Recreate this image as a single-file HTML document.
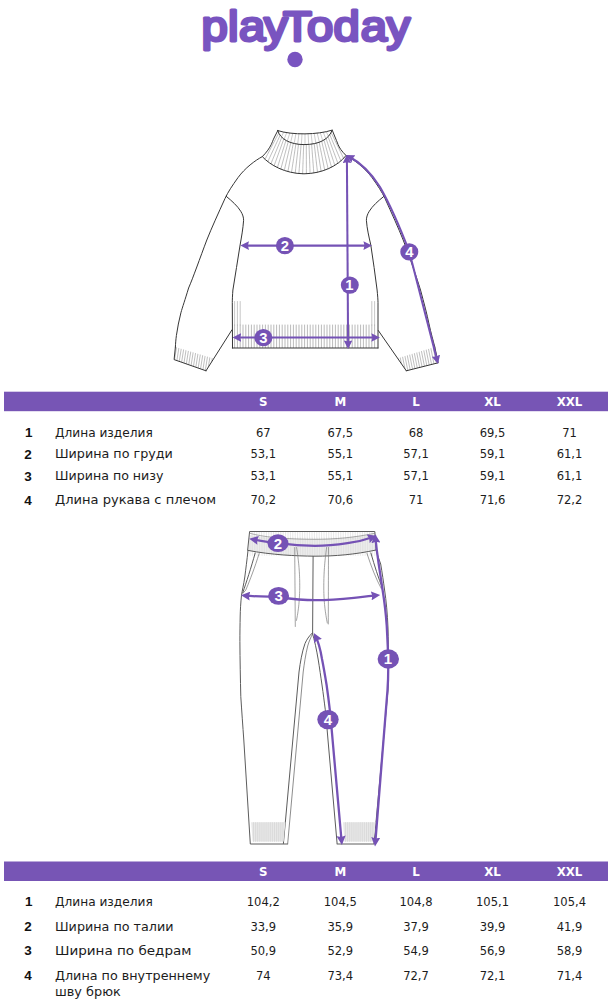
<!DOCTYPE html>
<html lang="ru">
<head>
<meta charset="utf-8">
<title>PlayToday — таблица размеров</title>
<style>
html,body{margin:0;padding:0;background:#fff;}
body{width:615px;height:1000px;overflow:hidden;position:relative;font-family:"Liberation Sans",sans-serif;color:#222;}
svg{position:absolute;left:0;top:0;display:block;}
.t{font-family:"DejaVu Sans","Liberation Sans",sans-serif;font-size:12.3px;fill:#1c1c1c;}
.nb{font-family:"Liberation Sans",sans-serif;font-size:13.5px;font-weight:bold;fill:#111;}
.h{font-family:"DejaVu Sans","Liberation Sans",sans-serif;font-size:11.8px;font-weight:bold;fill:#fff;}
.n{font-family:"Liberation Sans",sans-serif;font-weight:bold;fill:#fff;}
.logo{font-family:"Liberation Sans",sans-serif;font-weight:normal;fill:#7954c0;stroke:#7954c0;stroke-width:2.9;stroke-linejoin:round;stroke-linecap:round;}
</style>
</head>
<body>
<svg width="615" height="1000" viewBox="0 0 615 1000">
<defs>
<marker id="ah" viewBox="0 0 10 10" refX="6" refY="5" markerUnits="userSpaceOnUse" markerWidth="8.6" markerHeight="8.6" orient="auto-start-reverse"><path d="M0,0 L10,5 L0,10 L1.2,5 Z" fill="#7552b5"/></marker>
<marker id="ah2" viewBox="0 0 10 10" refX="6" refY="5" markerUnits="userSpaceOnUse" markerWidth="9.4" markerHeight="9" orient="auto-start-reverse"><path d="M0,0 L10,5 L0,10 L1.2,5 Z" fill="#7552b5"/></marker>
</defs>

<!-- LOGO -->
<g id="logo">
<text class="logo" transform="scale(1.12,1)" x="179.9 203.6 213.4 235.7 252.6 274.1 297.8 322.1 345.1" y="40.6" font-size="42.2">playToday</text>
<circle cx="295" cy="59.5" r="7.7" fill="#7954c0"/>
</g>

<!-- SWEATER -->
<g id="sweater" fill="none" stroke="#363636" stroke-width="1" stroke-linecap="round" stroke-linejoin="round">
<path d="M277.8,130.6 L274.5,137 C273,140 272,143 271.3,144.4 C269.5,148 267,152 262.3,156.6 C270,165 285,173.6 304,173.8 C322,173.6 338,166 346,155.5 C341.5,151 339.5,148 338,144.4 C337,142 336,139 335,137 L332.2,130.1 C318,134.8 292,135.3 277.8,130.6 Z" fill="#fff" stroke="none"/>
<path d="M278.7,133.1L265.0,159.2M280.1,135.3L267.8,161.6M281.8,137.3L270.9,163.8M283.8,139.0L274.1,165.8M286.0,140.4L277.4,167.5M288.3,141.6L280.8,169.1M290.8,142.6L284.3,170.4M293.3,143.3L287.9,171.5M295.9,143.9L291.5,172.4M298.5,144.3L295.2,173.1M301.1,144.5L298.9,173.5M303.7,144.6L302.6,173.8M306.3,144.5L306.4,173.7M309.0,144.4L310.1,173.4M311.6,144.1L313.8,172.9M314.2,143.7L317.5,172.2M316.7,143.1L321.1,171.3M319.2,142.3L324.7,170.1M321.7,141.3L328.2,168.8M324.0,140.0L331.5,167.2M326.1,138.5L334.8,165.3M328.1,136.8L337.9,163.3M329.8,134.7L340.9,160.9M331.1,132.5L343.6,158.3" stroke="#8c8c8c" stroke-width="0.55" stroke-dasharray="5 0.8 3 0.6"/>
<path d="M283.7,132.1L281.4,136.9M286.7,132.7L284.1,139.3M289.8,133.1L287.3,141.1M292.8,133.4L290.6,142.5M295.9,133.7L294.2,143.5M298.9,133.8L297.7,144.2M302.0,133.9L301.4,144.5M305.0,133.9L305.0,144.6M308.1,133.8L308.7,144.4M311.1,133.7L312.3,144.0M314.2,133.4L315.9,143.3M317.2,133.1L319.4,142.2M320.3,132.7L322.7,140.7M323.3,132.3L325.8,138.8M326.3,131.7L328.5,136.3" stroke="#999" stroke-width="0.5"/>
<path d="M277.8,130.6 L274.5,137 C273,140 272,143 271.3,144.4 C269.5,148 267,152 262.3,156.6 C270,165 285,173.6 304,173.8 C322,173.6 338,166 346,155.5 C341.5,151 339.5,148 338,144.4 C337,142 336,139 335,137 L332.2,130.1 C318,134.8 292,135.3 277.8,130.6 Z"/>
<path d="M277.8,130.6 C280,139 290,144.5 304,144.6 C320,144.5 329,139 332.2,130.1"/>
<path d="M262.3,156.6 C255,160.5 245,168 238,177.6 C232,186 228,192 225,198.5 C218,214 212,227 206.8,240 C200,258 193,278 188.6,288 C185,300 182.5,307 180.9,312.8 C179,320 177.5,328 176.4,335.5 C175.8,340 175.5,344 175.4,347"/>
<path d="M346,155.5 C354,159.5 365,168 372,177.6 C378,186 382,192 385,198.5 C392,214 398,227 403.2,240 C410,258 416.5,277 420.5,290 C424,303 427,314 429,324 C431,333 433,340 434.8,347"/>
<clipPath id="cl"><path d="M175.4,347 L174.1,359.6 L206,370.8 L213.6,358.5 Z"/></clipPath>
<path clip-path="url(#cl)" d="M172.0,344.0L167.4,373.0M174.5,344.0L169.9,373.0M177.0,344.0L172.4,373.0M179.5,344.0L174.9,373.0M182.0,344.0L177.4,373.0M184.5,344.0L179.9,373.0M187.0,344.0L182.4,373.0M189.5,344.0L184.9,373.0M192.0,344.0L187.4,373.0M194.5,344.0L189.9,373.0M197.0,344.0L192.4,373.0M199.5,344.0L194.9,373.0M202.0,344.0L197.4,373.0M204.5,344.0L199.9,373.0M207.0,344.0L202.4,373.0M209.5,344.0L204.9,373.0M212.0,344.0L207.4,373.0M214.5,344.0L209.9,373.0M217.0,344.0L212.4,373.0M219.5,344.0L214.9,373.0M222.0,344.0L217.4,373.0M224.5,344.0L219.9,373.0M227.0,344.0L222.4,373.0M229.5,344.0L224.9,373.0" stroke="#8a8a8a" stroke-width="0.55"/>
<path d="M175.4,347 L174.1,359.6 L206,370.8"/>
<clipPath id="cr"><path d="M434.8,347 L438.2,362.8 L406.3,370.8 L397.8,358.3 Z"/></clipPath>
<path clip-path="url(#cr)" d="M385.0,344.0L390.8,373.0M387.5,344.0L393.3,373.0M390.0,344.0L395.8,373.0M392.5,344.0L398.3,373.0M395.0,344.0L400.8,373.0M397.5,344.0L403.3,373.0M400.0,344.0L405.8,373.0M402.5,344.0L408.3,373.0M405.0,344.0L410.8,373.0M407.5,344.0L413.3,373.0M410.0,344.0L415.8,373.0M412.5,344.0L418.3,373.0M415.0,344.0L420.8,373.0M417.5,344.0L423.3,373.0M420.0,344.0L425.8,373.0M422.5,344.0L428.3,373.0M425.0,344.0L430.8,373.0M427.5,344.0L433.3,373.0M430.0,344.0L435.8,373.0M432.5,344.0L438.3,373.0M435.0,344.0L440.8,373.0M437.5,344.0L443.3,373.0M440.0,344.0L445.8,373.0" stroke="#8a8a8a" stroke-width="0.55"/>
<path d="M434.8,347 L438.2,362.8 L406.3,370.8"/>
<path d="M226.2,196.3 C232,201 237.5,206 240.7,211.2 C242.8,214.5 243.6,217.5 243.6,220.3 C243,229 241.5,237 240.1,245 C238,260 235,275 232.9,290 C232.5,295 232.3,300 232.3,302.4 L232.5,348"/>
<path d="M383.6,196.6 C378,201 372.5,206 369.3,211.2 C367.2,214.5 366.4,217.5 366.4,220.3 C367,229 369,237 370.8,245 C373,260 375.3,275 377.1,290 C377.6,295 378,300 378,302.4 L378,348"/>
<path d="M232,329.8 L206,370.8"/>
<path d="M378.3,330.5 L406.3,370.8"/>
<path d="M234.6,325.0L234.6,347.6M237.4,325.0L237.4,347.6M240.2,325.0L240.2,347.6M243.0,325.0L243.0,347.6M245.8,325.0L245.8,347.6M248.6,325.0L248.6,347.6M251.4,325.0L251.4,347.6M254.2,325.0L254.2,347.6M257.0,325.0L257.0,347.6M259.8,325.0L259.8,347.6M262.6,325.0L262.6,347.6M265.4,325.0L265.4,347.6M268.2,325.0L268.2,347.6M271.0,325.0L271.0,347.6M273.8,325.0L273.8,347.6M276.6,325.0L276.6,347.6M279.4,325.0L279.4,347.6M282.2,325.0L282.2,347.6M285.0,325.0L285.0,347.6M287.8,325.0L287.8,347.6M290.6,325.0L290.6,347.6M293.4,325.0L293.4,347.6M296.2,325.0L296.2,347.6M299.0,325.0L299.0,347.6M301.8,325.0L301.8,347.6M304.6,325.0L304.6,347.6M307.4,325.0L307.4,347.6M310.2,325.0L310.2,347.6M313.0,325.0L313.0,347.6M315.8,325.0L315.8,347.6M318.6,325.0L318.6,347.6M321.4,325.0L321.4,347.6M324.2,325.0L324.2,347.6M327.0,325.0L327.0,347.6M329.8,325.0L329.8,347.6M332.6,325.0L332.6,347.6M335.4,325.0L335.4,347.6M338.2,325.0L338.2,347.6M341.0,325.0L341.0,347.6M343.8,325.0L343.8,347.6M346.6,325.0L346.6,347.6M349.4,325.0L349.4,347.6M352.2,325.0L352.2,347.6M355.0,325.0L355.0,347.6M357.8,325.0L357.8,347.6M360.6,325.0L360.6,347.6M363.4,325.0L363.4,347.6M366.2,325.0L366.2,347.6M369.0,325.0L369.0,347.6M371.8,325.0L371.8,347.6M374.6,325.0L374.6,347.6" stroke="#8c8c8c" stroke-width="0.6"/>
<path d="M234.6,301.5L234.6,325.0M237.4,301.5L237.4,325.0M240.2,301.5L240.2,325.0M371.8,301.5L371.8,325.0M374.6,301.5L374.6,325.0" stroke="#999" stroke-width="0.55"/>
<path d="M232.3,348 L378,348"/>
<g stroke="#7552b5" stroke-width="2.05" fill="none" stroke-linecap="butt">
<path d="M346.9,158 L348.1,345.6" marker-start="url(#ah)" marker-end="url(#ah)"/>
<path d="M243.8,245.6 L368.6,245.6" marker-start="url(#ah)" marker-end="url(#ah)"/>
<path d="M236.1,337.5 L376.5,337.5" marker-start="url(#ah)" marker-end="url(#ah)"/>
<path d="M349,156.5 C363,164 373,176 380,187 C392,208 401,230 409.3,251.8 L437.2,360.6" marker-start="url(#ah)" marker-end="url(#ah)"/>
</g>
<g stroke="none" fill="#7552b5">
<ellipse cx="349.8" cy="285.1" rx="9" ry="8.6"/><ellipse cx="284.9" cy="245.7" rx="9" ry="8.6"/><ellipse cx="263.4" cy="337.7" rx="9" ry="8.6"/><ellipse cx="409.3" cy="251.8" rx="9" ry="8.6"/>
</g>
<g stroke="none">
<text class="n" font-size="14.8" text-anchor="middle" x="349.3" y="290.4">1</text>
<text class="n" font-size="14.8" text-anchor="middle" x="284.9" y="251.0">2</text>
<text class="n" font-size="14.8" text-anchor="middle" x="263.4" y="343.0">3</text>
<text class="n" font-size="14.8" text-anchor="middle" x="409.3" y="257.1">4</text>
</g>
</g>

<!-- TABLE 1 -->
<g id="table1">
<rect x="4" y="391.7" width="604" height="19.5" fill="#7755b5"/>
<text class="h" x="263.3" y="406.1" text-anchor="middle">S</text>
<text class="h" x="340.3" y="406.1" text-anchor="middle">M</text>
<text class="h" x="416" y="406.1" text-anchor="middle">L</text>
<text class="h" x="492.5" y="406.1" text-anchor="middle">XL</text>
<text class="h" x="569.5" y="406.1" text-anchor="middle">XXL</text>
<text class="nb" x="25" y="437.1">1</text>
<text class="t" x="55" y="436.8" textLength="97.7" lengthAdjust="spacingAndGlyphs">Длина изделия</text>
<text class="t" x="263.3" y="436.8" text-anchor="middle" textLength="14.7" lengthAdjust="spacingAndGlyphs">67</text>
<text class="t" x="340.3" y="436.8" text-anchor="middle" textLength="25.7" lengthAdjust="spacingAndGlyphs">67,5</text>
<text class="t" x="416" y="436.8" text-anchor="middle" textLength="14.7" lengthAdjust="spacingAndGlyphs">68</text>
<text class="t" x="492.5" y="436.8" text-anchor="middle" textLength="25.7" lengthAdjust="spacingAndGlyphs">69,5</text>
<text class="t" x="569.5" y="436.8" text-anchor="middle" textLength="14.7" lengthAdjust="spacingAndGlyphs">71</text>
<text class="nb" x="24.3" y="458.6">2</text>
<text class="t" x="55" y="458.3" textLength="117.8" lengthAdjust="spacingAndGlyphs">Ширина по груди</text>
<text class="t" x="263.3" y="458.3" text-anchor="middle" textLength="25.7" lengthAdjust="spacingAndGlyphs">53,1</text>
<text class="t" x="340.3" y="458.3" text-anchor="middle" textLength="25.7" lengthAdjust="spacingAndGlyphs">55,1</text>
<text class="t" x="416" y="458.3" text-anchor="middle" textLength="25.7" lengthAdjust="spacingAndGlyphs">57,1</text>
<text class="t" x="492.5" y="458.3" text-anchor="middle" textLength="25.7" lengthAdjust="spacingAndGlyphs">59,1</text>
<text class="t" x="569.5" y="458.3" text-anchor="middle" textLength="25.7" lengthAdjust="spacingAndGlyphs">61,1</text>
<text class="nb" x="24.3" y="480.5">3</text>
<text class="t" x="55" y="480.2" textLength="108.5" lengthAdjust="spacingAndGlyphs">Ширина по низу</text>
<text class="t" x="263.3" y="480.2" text-anchor="middle" textLength="25.7" lengthAdjust="spacingAndGlyphs">53,1</text>
<text class="t" x="340.3" y="480.2" text-anchor="middle" textLength="25.7" lengthAdjust="spacingAndGlyphs">55,1</text>
<text class="t" x="416" y="480.2" text-anchor="middle" textLength="25.7" lengthAdjust="spacingAndGlyphs">57,1</text>
<text class="t" x="492.5" y="480.2" text-anchor="middle" textLength="25.7" lengthAdjust="spacingAndGlyphs">59,1</text>
<text class="t" x="569.5" y="480.2" text-anchor="middle" textLength="25.7" lengthAdjust="spacingAndGlyphs">61,1</text>
<text class="nb" x="24.3" y="504.5">4</text>
<text class="t" x="55" y="504.2" textLength="161.1" lengthAdjust="spacingAndGlyphs">Длина рукава с плечом</text>
<text class="t" x="263.3" y="504.2" text-anchor="middle" textLength="25.7" lengthAdjust="spacingAndGlyphs">70,2</text>
<text class="t" x="340.3" y="504.2" text-anchor="middle" textLength="25.7" lengthAdjust="spacingAndGlyphs">70,6</text>
<text class="t" x="416" y="504.2" text-anchor="middle" textLength="14.7" lengthAdjust="spacingAndGlyphs">71</text>
<text class="t" x="492.5" y="504.2" text-anchor="middle" textLength="25.7" lengthAdjust="spacingAndGlyphs">71,6</text>
<text class="t" x="569.5" y="504.2" text-anchor="middle" textLength="25.7" lengthAdjust="spacingAndGlyphs">72,2</text>
</g>

<!-- PANTS -->
<g id="pants" fill="none" stroke="#5c5c5c" stroke-width="1" stroke-linecap="round" stroke-linejoin="round">
<path d="M250,531.5 L374.8,531.5 L376.1,550 C355,554.5 335,556.2 315,556.2 C296,556 272,555 248,550.4 Z" fill="#fff" stroke="none"/>
<path d="M249.6,535 C262,537.5 285,539.2 315,539.3 C335,539.3 355,537.5 374.9,533.5 L376.1,550 C355,554.5 335,556.2 315,556.2 C296,556 272,555 248,550.4 Z" fill="#ececec" stroke="none"/>
<path d="M252.0,532.0L252.0,539.0M254.4,532.0L254.4,539.0M256.8,532.0L256.8,539.0M259.2,532.0L259.2,539.0M261.6,532.0L261.6,539.0M264.0,532.0L264.0,539.0M266.4,532.0L266.4,539.0M268.8,532.0L268.8,539.0M271.2,532.0L271.2,539.0M273.6,532.0L273.6,539.0M276.0,532.0L276.0,539.0M278.4,532.0L278.4,539.0M280.8,532.0L280.8,539.0M283.2,532.0L283.2,539.0M285.6,532.0L285.6,539.0M288.0,532.0L288.0,539.0M290.4,532.0L290.4,539.0M292.8,532.0L292.8,539.0M295.2,532.0L295.2,539.0M297.6,532.0L297.6,539.0M300.0,532.0L300.0,539.0M302.4,532.0L302.4,539.0M304.8,532.0L304.8,539.0M307.2,532.0L307.2,539.0M309.6,532.0L309.6,539.0M312.0,532.0L312.0,539.0M314.4,532.0L314.4,539.0M316.8,532.0L316.8,539.0M319.2,532.0L319.2,539.0M321.6,532.0L321.6,539.0M324.0,532.0L324.0,539.0M326.4,532.0L326.4,539.0M328.8,532.0L328.8,539.0M331.2,532.0L331.2,539.0M333.6,532.0L333.6,539.0M336.0,532.0L336.0,539.0M338.4,532.0L338.4,539.0M340.8,532.0L340.8,539.0M343.2,532.0L343.2,539.0M345.6,532.0L345.6,539.0M348.0,532.0L348.0,539.0M350.4,532.0L350.4,539.0M352.8,532.0L352.8,539.0M355.2,532.0L355.2,539.0M357.6,532.0L357.6,539.0M360.0,532.0L360.0,539.0M362.4,532.0L362.4,539.0M364.8,532.0L364.8,539.0M367.2,532.0L367.2,539.0M369.6,532.0L369.6,539.0M372.0,532.0L372.0,539.0" stroke="#c4c4c4" stroke-width="0.4"/>
<path d="M250.0,538.0L250.0,555.5M252.4,538.0L252.4,555.5M254.8,538.0L254.8,555.5M257.2,538.0L257.2,555.5M259.6,538.0L259.6,555.5M262.0,538.0L262.0,555.5M264.4,538.0L264.4,555.5M266.8,538.0L266.8,555.5M269.2,538.0L269.2,555.5M271.6,538.0L271.6,555.5M274.0,538.0L274.0,555.5M276.4,538.0L276.4,555.5M278.8,538.0L278.8,555.5M281.2,538.0L281.2,555.5M283.6,538.0L283.6,555.5M286.0,538.0L286.0,555.5M288.4,538.0L288.4,555.5M290.8,538.0L290.8,555.5M293.2,538.0L293.2,555.5M295.6,538.0L295.6,555.5M298.0,538.0L298.0,555.5M300.4,538.0L300.4,555.5M302.8,538.0L302.8,555.5M305.2,538.0L305.2,555.5M307.6,538.0L307.6,555.5M310.0,538.0L310.0,555.5M312.4,538.0L312.4,555.5M314.8,538.0L314.8,555.5M317.2,538.0L317.2,555.5M319.6,538.0L319.6,555.5M322.0,538.0L322.0,555.5M324.4,538.0L324.4,555.5M326.8,538.0L326.8,555.5M329.2,538.0L329.2,555.5M331.6,538.0L331.6,555.5M334.0,538.0L334.0,555.5M336.4,538.0L336.4,555.5M338.8,538.0L338.8,555.5M341.2,538.0L341.2,555.5M343.6,538.0L343.6,555.5M346.0,538.0L346.0,555.5M348.4,538.0L348.4,555.5M350.8,538.0L350.8,555.5M353.2,538.0L353.2,555.5M355.6,538.0L355.6,555.5M358.0,538.0L358.0,555.5M360.4,538.0L360.4,555.5M362.8,538.0L362.8,555.5M365.2,538.0L365.2,555.5M367.6,538.0L367.6,555.5M370.0,538.0L370.0,555.5M372.4,538.0L372.4,555.5M374.8,538.0L374.8,555.5" stroke="#cfcfcf" stroke-width="0.4"/>
<path d="M250,531.5 L374.8,531.5 L376.1,550 C355,554.5 335,556.2 315,556.2 C296,556 272,555 248,550.4 Z"/>
<path d="M249.8,533.2 C262,537 285,539.2 315,539.3 C335,539.3 355,537.5 374.9,533.2" stroke="#777" stroke-width="0.6"/>
<path d="M248,550.4 C247,560 245.8,569 244.8,577 C243.6,585 242.3,590 241.5,595.2 C240.7,603 240.3,610 240.2,616 C240,625 239.9,633 239.9,641.5 C240,660 240.4,680 240.8,696.7 C241.8,712 242.8,726 243.8,740 L250.3,844 L287.7,844"/>
<path d="M376.1,550 C377.6,556 379.3,560 380.7,564 C382.2,573 383.5,582 384.6,590 C386.2,601 387.5,614 388,628 C388.5,650 388.8,675 388,690 L374,844 L337.1,844"/>
<path d="M255.2,553 C251,568 246.5,582 242.8,592.6"/>
<path d="M259.1,553.6 C255,567 250,580 245.8,590 L242.8,593.5" stroke-width="0.6"/>
<path d="M370.9,553 C374.5,566 378.5,578 382.6,588.7"/>
<path d="M367,553.5 C371,566 376,579 381.5,589" stroke-width="0.6"/>
<path d="M313.1,556.4 L312.6,633"/>
<path d="M294.7,547.5 L295.3,626.5 M296.6,547.5 C299.3,565 299.9,577 299.7,590 C299.3,605 297.8,614 296.3,621" stroke="#7d7d7d" stroke-width="0.7" stroke-dasharray="3 0.7"/>
<path d="M328.5,547.5 L328.3,624 M326.6,547.5 C324.2,565 323.7,577 323.8,590 C324,605 325.8,615 327.3,623" stroke="#7d7d7d" stroke-width="0.7" stroke-dasharray="3 0.7"/>
<path d="M312.3,633 C309,636 306.5,640 305,643.5 C302,652 300.3,662 299,672 L283.4,843.5"/>
<path d="M312.5,634 C310.5,638 308.8,642 307.7,646 C305.5,655 304.2,664 303.2,672 L287.7,843.5" stroke-width="0.7"/>
<path d="M312.5,633.5 C314.5,640 316.6,650 318.1,659 C319.6,668 320.8,677 322,685 C323.3,694 324.3,702 325.3,709.8 C326.3,720 327.2,730 328,740 L337.1,843.5"/>
<path d="M251.1,822.2 L252.6,841.6 L283.6,841.6 L285.4,822.2 Z" fill="#e8e8e8" stroke="none"/>
<path d="M343,822.2 L344.3,841.6 L373.5,841.6 L375.6,822.2 Z" fill="#e8e8e8" stroke="none"/>
<path d="M253.5,822.5L253.5,841.5M255.6,822.5L255.6,841.5M257.7,822.5L257.7,841.5M259.8,822.5L259.8,841.5M261.9,822.5L261.9,841.5M264.0,822.5L264.0,841.5M266.1,822.5L266.1,841.5M268.2,822.5L268.2,841.5M270.3,822.5L270.3,841.5M272.4,822.5L272.4,841.5M274.5,822.5L274.5,841.5M276.6,822.5L276.6,841.5M278.7,822.5L278.7,841.5M280.8,822.5L280.8,841.5M282.9,822.5L282.9,841.5M345.5,822.5L345.5,841.5M347.6,822.5L347.6,841.5M349.7,822.5L349.7,841.5M351.8,822.5L351.8,841.5M353.9,822.5L353.9,841.5M356.0,822.5L356.0,841.5M358.1,822.5L358.1,841.5M360.2,822.5L360.2,841.5M362.3,822.5L362.3,841.5M364.4,822.5L364.4,841.5M366.5,822.5L366.5,841.5M368.6,822.5L368.6,841.5M370.7,822.5L370.7,841.5M372.8,822.5L372.8,841.5" stroke="#cdcdcd" stroke-width="0.5"/>
<g stroke="#7552b5" stroke-width="2.3" fill="none" stroke-linecap="butt">
<path d="M252.8,539.4 C262,541 270,542.3 277.9,543.2 C290,544.8 303,545.8 315,545.8 C327,545.8 338,544.6 347.5,543.2 C356,542 364,540.3 373.3,537" marker-start="url(#ah2)" marker-end="url(#ah2)"/>
<path d="M244.6,595.6 C256,596.6 268,596.6 278.6,597 C291,598.8 304,600.2 315,600.2 C330,600.2 343,599 354,597.8 C362,597 370,596 376.6,595.4" marker-start="url(#ah2)" marker-end="url(#ah2)"/>
<path d="M375.4,537.5 C376.3,547 377.5,556 378.7,564 C380,573 381.4,582 382.6,590 C384,599 385.2,608 385.9,616 C386.6,623 387,629 387.2,635 C387.8,645 388,653 388.1,659.4 C388.4,670 388.2,680 387.5,690 L375.3,842.8" marker-start="url(#ah2)" marker-end="url(#ah2)"/>
<path d="M315.5,636.3 C318.5,642 320.5,650 322,659 C323.8,668 325.3,677 326.6,685 C327.9,694 328.9,702 329.8,709.8 C330.8,720 331.8,730 332.6,740 L341.6,841.3" marker-start="url(#ah2)" marker-end="url(#ah2)"/>
</g>
<g stroke="none" fill="#7552b5">
<ellipse cx="278" cy="543.2" rx="10.5" ry="8.9"/><ellipse cx="278.6" cy="595.9" rx="10.5" ry="8.9"/><ellipse cx="388.3" cy="659" rx="10.7" ry="9.7"/><ellipse cx="328" cy="719.6" rx="10.7" ry="9.7"/>
</g>
<g stroke="none">
<text class="n" font-size="15" text-anchor="middle" x="278.0" y="548.6">2</text>
<text class="n" font-size="15" text-anchor="middle" x="278.6" y="601.3">3</text>
<text class="n" font-size="15" text-anchor="middle" x="387.8" y="664.4">1</text>
<text class="n" font-size="15" text-anchor="middle" x="328.0" y="725.0">4</text>
</g>
</g>

<!-- TABLE 2 -->
<g id="table2">
<rect x="4" y="861.5" width="604" height="19.5" fill="#7755b5"/>
<text class="h" x="263.3" y="876" text-anchor="middle">S</text>
<text class="h" x="340.3" y="876" text-anchor="middle">M</text>
<text class="h" x="416" y="876" text-anchor="middle">L</text>
<text class="h" x="492.5" y="876" text-anchor="middle">XL</text>
<text class="h" x="569.5" y="876" text-anchor="middle">XXL</text>
<text class="nb" x="25" y="906.3">1</text>
<text class="t" x="55" y="906" textLength="97.7" lengthAdjust="spacingAndGlyphs">Длина изделия</text>
<text class="t" x="263.3" y="906" text-anchor="middle" textLength="33.1" lengthAdjust="spacingAndGlyphs">104,2</text>
<text class="t" x="340.3" y="906" text-anchor="middle" textLength="33.1" lengthAdjust="spacingAndGlyphs">104,5</text>
<text class="t" x="416" y="906" text-anchor="middle" textLength="33.1" lengthAdjust="spacingAndGlyphs">104,8</text>
<text class="t" x="492.5" y="906" text-anchor="middle" textLength="33.1" lengthAdjust="spacingAndGlyphs">105,1</text>
<text class="t" x="569.5" y="906" text-anchor="middle" textLength="33.1" lengthAdjust="spacingAndGlyphs">105,4</text>
<text class="nb" x="24.3" y="931.3">2</text>
<text class="t" x="55" y="931" textLength="118.5" lengthAdjust="spacingAndGlyphs">Ширина по талии</text>
<text class="t" x="263.3" y="931" text-anchor="middle" textLength="25.7" lengthAdjust="spacingAndGlyphs">33,9</text>
<text class="t" x="340.3" y="931" text-anchor="middle" textLength="25.7" lengthAdjust="spacingAndGlyphs">35,9</text>
<text class="t" x="416" y="931" text-anchor="middle" textLength="25.7" lengthAdjust="spacingAndGlyphs">37,9</text>
<text class="t" x="492.5" y="931" text-anchor="middle" textLength="25.7" lengthAdjust="spacingAndGlyphs">39,9</text>
<text class="t" x="569.5" y="931" text-anchor="middle" textLength="25.7" lengthAdjust="spacingAndGlyphs">41,9</text>
<text class="nb" x="24.3" y="955.3">3</text>
<text class="t" x="55" y="955" textLength="136.5" lengthAdjust="spacingAndGlyphs">Ширина по бедрам</text>
<text class="t" x="263.3" y="955" text-anchor="middle" textLength="25.7" lengthAdjust="spacingAndGlyphs">50,9</text>
<text class="t" x="340.3" y="955" text-anchor="middle" textLength="25.7" lengthAdjust="spacingAndGlyphs">52,9</text>
<text class="t" x="416" y="955" text-anchor="middle" textLength="25.7" lengthAdjust="spacingAndGlyphs">54,9</text>
<text class="t" x="492.5" y="955" text-anchor="middle" textLength="25.7" lengthAdjust="spacingAndGlyphs">56,9</text>
<text class="t" x="569.5" y="955" text-anchor="middle" textLength="25.7" lengthAdjust="spacingAndGlyphs">58,9</text>
<text class="nb" x="24.3" y="979.8">4</text>
<text class="t" x="55" y="979.5" textLength="155.2" lengthAdjust="spacingAndGlyphs">Длина по внутреннему</text>
<text class="t" x="55" y="995.6" textLength="65.8" lengthAdjust="spacingAndGlyphs">шву брюк</text>
<text class="t" x="263.3" y="979.5" text-anchor="middle" textLength="14.7" lengthAdjust="spacingAndGlyphs">74</text>
<text class="t" x="340.3" y="979.5" text-anchor="middle" textLength="25.7" lengthAdjust="spacingAndGlyphs">73,4</text>
<text class="t" x="416" y="979.5" text-anchor="middle" textLength="25.7" lengthAdjust="spacingAndGlyphs">72,7</text>
<text class="t" x="492.5" y="979.5" text-anchor="middle" textLength="25.7" lengthAdjust="spacingAndGlyphs">72,1</text>
<text class="t" x="569.5" y="979.5" text-anchor="middle" textLength="25.7" lengthAdjust="spacingAndGlyphs">71,4</text>
</g>
</svg>
</body>
</html>
